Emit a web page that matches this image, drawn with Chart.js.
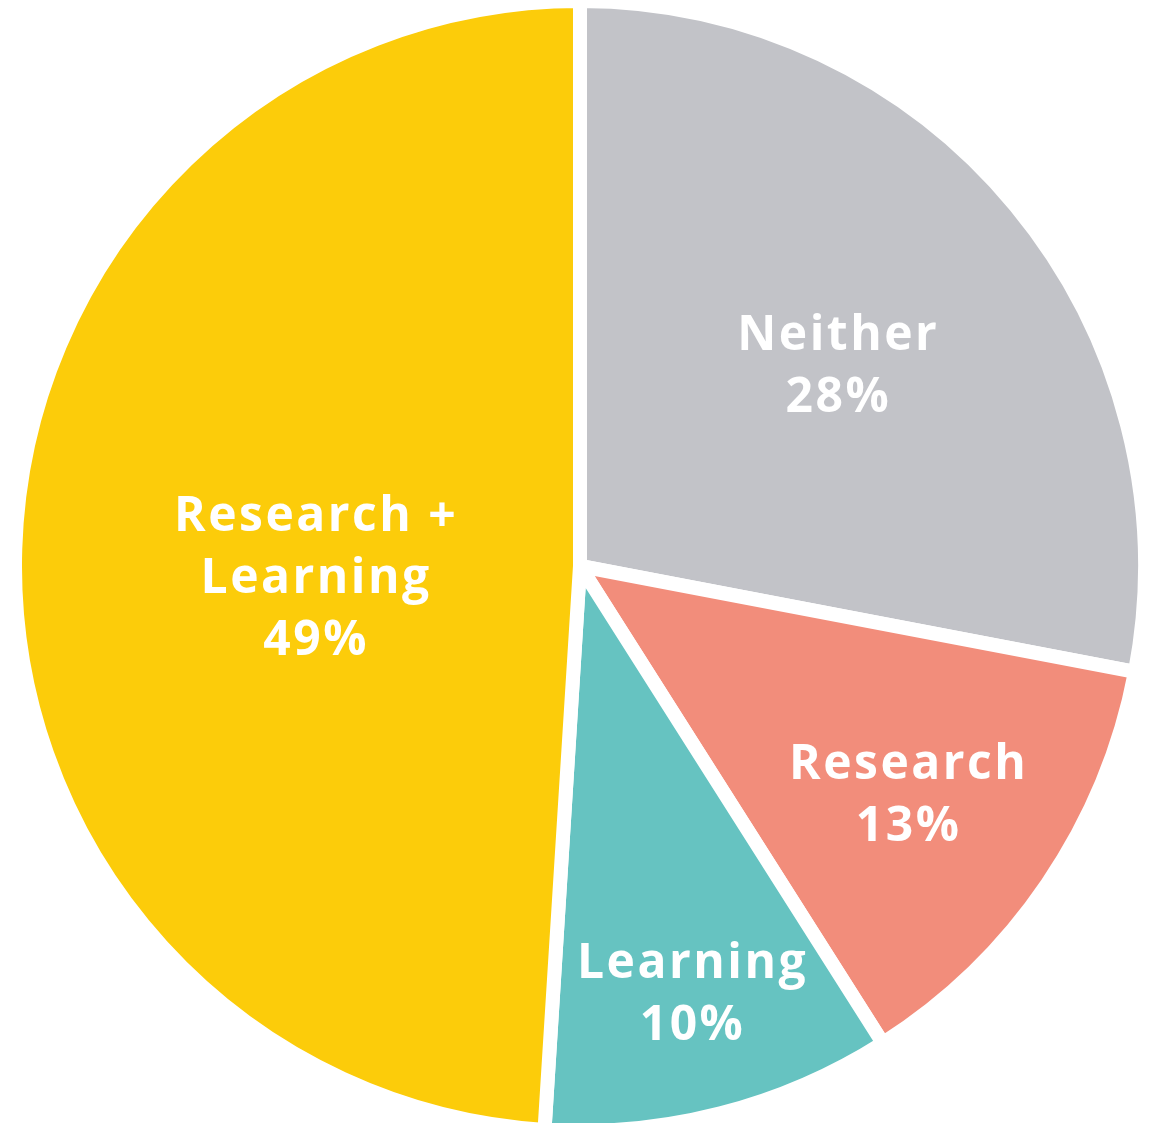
<!DOCTYPE html>
<html>
<head>
<meta charset="utf-8">
<script src="https://cdn.jsdelivr.net/npm/chart.js@4/dist/chart.umd.min.js"></script>
<style>
  html, body { margin: 0; padding: 0; background: #fff; }
  #wrap { width: 1150px; height: 1123px; position: relative; }
</style>
</head>
<body>
<div id="wrap"><canvas id="chart1"></canvas></div>
<script>
// data
var categories = ['Neither', 'Research', 'Learning', 'Research + Learning'];
var shares = [28, 13, 10, 49];
var labelLines = [['Neither'], ['Research'], ['Learning'], ['Research +', 'Learning']];

// look
var sliceColors = ['#c2c3c8', '#f28d7b', '#66c3c1', '#fccc0a'];
var labelRadius = [0.59, 0.70, 0.79, 0.47];
var labelNudgeY = [10, 5, -6, 18];

var sliceLabels = {
  id: 'sliceLabels',
  afterDatasetsDraw: function(chart) {
    var ctx = chart.ctx;
    var arcs = chart.getDatasetMeta(0).data;
    var size = 48;
    var capH = size * 0.71;
    ctx.save();
    ctx.fillStyle = '#ffffff';
    ctx.font = 'bold ' + size + 'px "Open Sans"';
    ctx.letterSpacing = '2.5px';
    ctx.textAlign = 'center';
    ctx.textBaseline = 'alphabetic';
    arcs.forEach(function(arc, i) {
      var p = arc.getProps(['x', 'y', 'startAngle', 'endAngle', 'outerRadius']);
      var mid = (p.startAngle + p.endAngle) / 2;
      var r = p.outerRadius * labelRadius[i];
      var cx = p.x + Math.cos(mid) * r;
      var cy = p.y + Math.sin(mid) * r + labelNudgeY[i];
      var lines = labelLines[i].concat([shares[i] + '%']);
      var lh = 62;
      var y0 = cy - (lines.length - 1) * lh / 2 + capH / 2;
      lines.forEach(function(t, k) {
        ctx.fillText(t, cx + 1.5, y0 + k * lh);
      });
    });
    ctx.restore();
  }
};

var ctx = document.getElementById('chart1').getContext('2d');
var myChart = new Chart(ctx, {
  type: 'pie',
  data: {
    labels: categories,
    datasets: [{
      data: shares,
      backgroundColor: sliceColors,
      borderColor: '#ffffff',
      borderWidth: 14,
      clip: false
    }]
  },
  options: {
    responsive: true,
    maintainAspectRatio: false,
    animation: false,
    radius: 565,
    layout: { padding: { left: 10, top: 9, right: 0, bottom: 0 } },
    plugins: {
      legend: { display: false },
      tooltip: { enabled: false }
    }
  },
  plugins: [sliceLabels]
});
</script>
</body>
</html>
